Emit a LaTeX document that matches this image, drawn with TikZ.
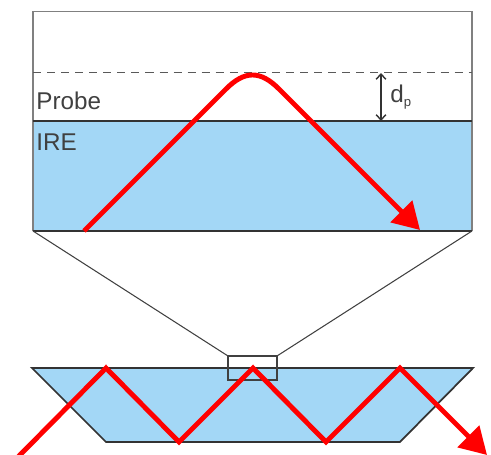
\documentclass[tikz,border=0pt]{standalone}
\usepackage{fontspec}
\setmainfont{Liberation Sans}
\usetikzlibrary{arrows.meta}
\definecolor{irefill}{HTML}{A3D7F6}
\definecolor{txtgray}{HTML}{404040}
\begin{document}
\begin{tikzpicture}[
    x=0.02cm, y=-0.02cm,
    lbl/.style={anchor=base west, inner sep=0pt, text=txtgray, font=\fontsize{13.8}{15}\selectfont},
    frame/.style={draw=black!50, line width=0.7pt},
    edge/.style={draw=black!80, line width=1pt},
    thin line/.style={draw=black!75, line width=0.6pt},
    ray/.style={draw=red, line width=2.8pt, line join=miter},
    rayarr/.style={ray, -{Triangle[length=15pt, width=17pt]}}
  ]
  \useasboundingbox (0,0) rectangle (491,455);

  \coordinate (A) at (33,231);
  \coordinate (B) at (472,231);
  \coordinate (C) at (472,121);
  \coordinate (D) at (33,121);
  \coordinate (E) at (33,11.5);
  \coordinate (F) at (472,11.5);
  \coordinate (G) at (33,72.5);
  \coordinate (H) at (472,72.5);
  \coordinate (I) at (228,356);
  \coordinate (J) at (277,356);
  \coordinate (K) at (277,380);
  \coordinate (L) at (228,380);
  \coordinate (M) at (32,368);
  \coordinate (N) at (473,368);
  \coordinate (O) at (400,442);
  \coordinate (P) at (106,442);

  \fill[irefill] (D) -- (C) -- (B) -- (A) -- cycle;
  \fill[irefill] (M) -- (N) -- (O) -- (P) -- cycle;

  \draw[frame] (A) -- (E) -- (F) -- (B);
  \draw[edge] (A) -- (B);
  \draw[edge, line width=1.4pt] (D) -- (C);
  \draw[frame, black!65, dash pattern=on 4.6pt off 3.4pt] (G) -- (H);
  \draw[edge] (M) -- (N) -- (O) -- (P) -- cycle;

  \draw[thin line] (A) -- (I);
  \draw[thin line] (B) -- (J);
  \draw[thin line] (I) -- (J) -- (K) -- (L) -- cycle;

  \coordinate (dtop) at (381,73);
  \coordinate (dbot) at (381,121);
  \draw[black!80, line width=0.8pt, {Straight Barb[length=3pt, width=5.5pt]}-{Straight Barb[length=3pt, width=5.5pt]}] (dtop) -- (dbot);

  \node[lbl] (probe) at (36,110) {Probe};
  \node[lbl] (ire) at (36,150.5) {IRE};
  \node[lbl] (dp) at (390,102.5) {d\raisebox{-2.5pt}{\fontsize{7.5}{8}\selectfont p}};

  \coordinate (r0) at (84,231);
  \coordinate (r1) at (226,89);
  \coordinate (r2) at (279,89);
  \coordinate (r3) at (420,230);
  \draw[rayarr] (r0) -- (r1) .. controls (244.7,70.3) and (260.3,70.3) .. (r2) -- (r3);

  \coordinate (s0) at (18,457);
  \coordinate (s1) at (106,368);
  \coordinate (s2) at (179,442);
  \coordinate (s3) at (253,368);
  \coordinate (s4) at (326,442);
  \coordinate (s5) at (400,368);
  \coordinate (s6) at (487,455);
  \draw[rayarr] (s0) -- (s1) -- (s2) -- (s3) -- (s4) -- (s5) -- (s6);
\end{tikzpicture}
\end{document}
